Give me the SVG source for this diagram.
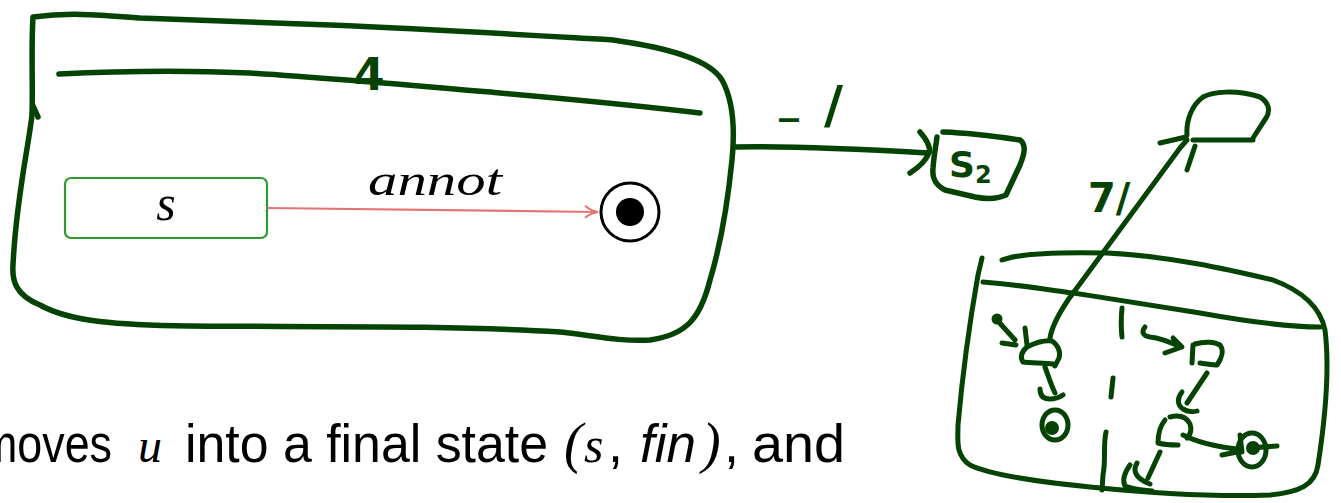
<svg xmlns="http://www.w3.org/2000/svg" width="1341" height="503" viewBox="0 0 1341 503">
<style>
.ink{fill:none;stroke:#054305;stroke-width:5.5;stroke-linecap:round;stroke-linejoin:round}
.ink4{fill:none;stroke:#054305;stroke-width:5;stroke-linecap:round;stroke-linejoin:round}
.dot{fill:#054305}
.hw{font-family:"DejaVu Sans",sans-serif;font-weight:bold;fill:#054305}
.math{font-family:"Liberation Serif",serif;font-style:italic;fill:#000}
.body{font-family:"Liberation Sans",sans-serif;fill:#000;font-size:54px}
</style>
<defs>
<marker id="redArrow" markerWidth="16" markerHeight="14" refX="14" refY="7" orient="auto" markerUnits="userSpaceOnUse">
<path d="M1,1 Q7,6 14,7 Q7,8 1,13" fill="none" stroke="#e57373" stroke-width="2"/>
</marker>
</defs>
<rect width="1341" height="503" fill="#fff"/>

<g id="superstate">
<path class="ink" d="M33,17 C70,12 100,15 140,18 L330,25 C450,30 560,37 613,40 C670,48 710,60 722,80 C733,100 735,130 732,160 C728,200 722,240 710,280 C700,320 685,335 650,340 C620,342 590,335 560,332 C450,325 300,327 189,326 C120,325 70,322 40,305 C15,295 12,280 13,265 C16,200 28,150 32,115 C33,80 31,50 33,17 Z"/>
<path class="ink" d="M33,106 L38,117"/>
<path class="ink" d="M59,74 C120,71 180,70 250,73 C330,78 420,86 500,93 C580,100 650,107 700,113"/>
<text class="hw" x="354" y="90" font-size="44">4</text>
</g>

<g id="state-s">
<rect x="65" y="178" width="202" height="60" rx="6" fill="#fff" stroke="#2e9a2e" stroke-width="2.2"/>
<text class="math" x="166" y="220" font-size="50" text-anchor="middle">s</text>
</g>

<g id="final-state">
<circle cx="630" cy="212" r="29" fill="#fff" stroke="#000" stroke-width="3"/>
<circle cx="630" cy="212" r="14" fill="#000"/>
</g>

<g id="state-s2">
<path class="ink" d="M943,132 C970,133 1000,137 1020,140 C1027,145 1024,155 1020,165 L1006,195 C995,200 985,199 975,197 L945,190 C935,185 932,178 933,168 C934,155 936,145 937,137"/>
<text class="hw" x="949" y="177" font-size="36">S<tspan font-size="24" dy="6">2</tspan></text>
</g>

<g id="state-top">
<path class="ink4" d="M1187,135 C1186,120 1192,105 1203,97 C1212,92 1235,89 1260,97 C1270,103 1270,112 1266,118 L1253,138 M1193,140 L1253,140"/>
</g>

<g id="superstate-2">
<path class="ink4" d="M1002,260 C1020,253 1060,252 1107,253 C1170,256 1230,270 1273,280 C1300,290 1320,305 1325,330 C1330,370 1325,420 1318,465 C1315,485 1300,492 1270,495 C1220,497 1150,493 1090,487 C1040,482 990,475 970,465 C955,455 958,440 958,425 C962,380 970,320 978,275 L982,258"/>
<path class="ink4" d="M983,282 C1020,285 1050,290 1073,293 C1120,300 1170,308 1200,313 C1250,322 1290,327 1320,327"/>
<path class="ink4" d="M1122,308 C1121,318 1121,328 1122,337 M1113,378 L1111,397 M1106,432 C1103,445 1106,460 1103,475 L1102,490"/>
<circle class="dot" cx="997" cy="319" r="5.5"/>
<path class="ink4" d="M997,320 L1015,340 M1002,343 L1016,345 M1025,328 L1027,345"/>
<path class="ink4" d="M1027,347 C1035,343 1045,340 1052,341 C1058,345 1061,352 1059,358 L1055,366 M1053,364 C1045,363 1030,363 1023,362 C1020,358 1021,352 1027,347"/>
<path class="ink4" d="M1045,367 C1048,375 1051,385 1055,393 M1040,389 C1040,396 1044,399 1050,399 C1055,399 1060,397 1063,395"/>
<ellipse cx="1055" cy="425" rx="13" ry="15" class="ink4"/>
<circle class="dot" cx="1052" cy="428" r="7"/>
<path class="ink4" d="M1145,327 C1141,332 1143,336 1150,337 C1160,338 1170,342 1181,347 M1173,338 L1182,347 L1165,353"/>
<path class="ink4" d="M1193,345 L1192,363 M1200,363 C1208,364 1214,365 1217,365 C1222,358 1224,350 1220,345 C1215,342 1205,341 1195,344"/>
<path class="ink4" d="M1207,373 L1187,403 M1182,392 C1177,398 1177,405 1183,409 C1188,412 1194,412 1197,411"/>
<path class="ink4" d="M1170,417 C1178,415 1186,416 1190,424 C1192,430 1190,435 1187,438 M1165,420 C1160,426 1158,433 1158,443 C1165,445 1172,445 1178,445"/>
<path class="ink4" d="M1183,435 C1195,441 1210,446 1237,449 M1222,455 L1237,452 M1240,435 L1242,452 M1250,448 L1277,446"/>
<ellipse cx="1252" cy="450" rx="14" ry="17" class="ink4"/>
<circle class="dot" cx="1253" cy="448" r="7"/>
<path class="ink4" d="M1160,452 L1148,478 M1137,463 C1133,470 1134,478 1150,484 M1130,465 C1125,472 1122,480 1125,486 C1135,490 1145,490 1152,491"/>
</g>

<g id="connectors">
<path d="M267,208 L598,212" fill="none" stroke="#e57373" stroke-width="2.2" marker-end="url(#redArrow)"/>
<text class="math" x="368" y="195" font-size="44" textLength="134" lengthAdjust="spacingAndGlyphs">annot</text>
<path class="ink" d="M735,147 C780,146 840,148 928,153"/>
<path class="ink" d="M920,132 C927,140 931,147 929,153 C925,162 918,168 910,173"/>
<text class="hw" x="779" y="112" font-size="40">_<tspan x="824" y="123" font-size="52">/</tspan></text>
<path class="ink4" d="M1050,338 C1052,325 1060,312 1068,300 L1180,148 L1187,140 M1160,143 L1186,137 M1195,146 L1187,170"/>
<text class="hw" x="1088" y="212" font-size="40">7/</text>
</g>

<g id="caption">
<text class="body" x="-20" y="462" textLength="132" lengthAdjust="spacingAndGlyphs">moves</text>
<text class="math" x="138" y="462" font-size="48">u</text>
<text class="body" x="185" y="462" textLength="363" lengthAdjust="spacingAndGlyphs">into a final state</text>
<text class="math" x="564" y="462" font-size="56" font-style="normal">(</text>
<text class="math" x="584" y="462" font-size="50">s</text>
<text class="body" x="608" y="462">,</text>
<text class="body" x="640" y="462" font-style="italic" textLength="56" lengthAdjust="spacingAndGlyphs">fin</text>
<text class="math" x="702" y="462" font-size="56" font-style="normal">)</text>
<text class="body" x="724" y="462">,</text>
<text class="body" x="752" y="462" textLength="93" lengthAdjust="spacingAndGlyphs">and</text>
</g>
</svg>
